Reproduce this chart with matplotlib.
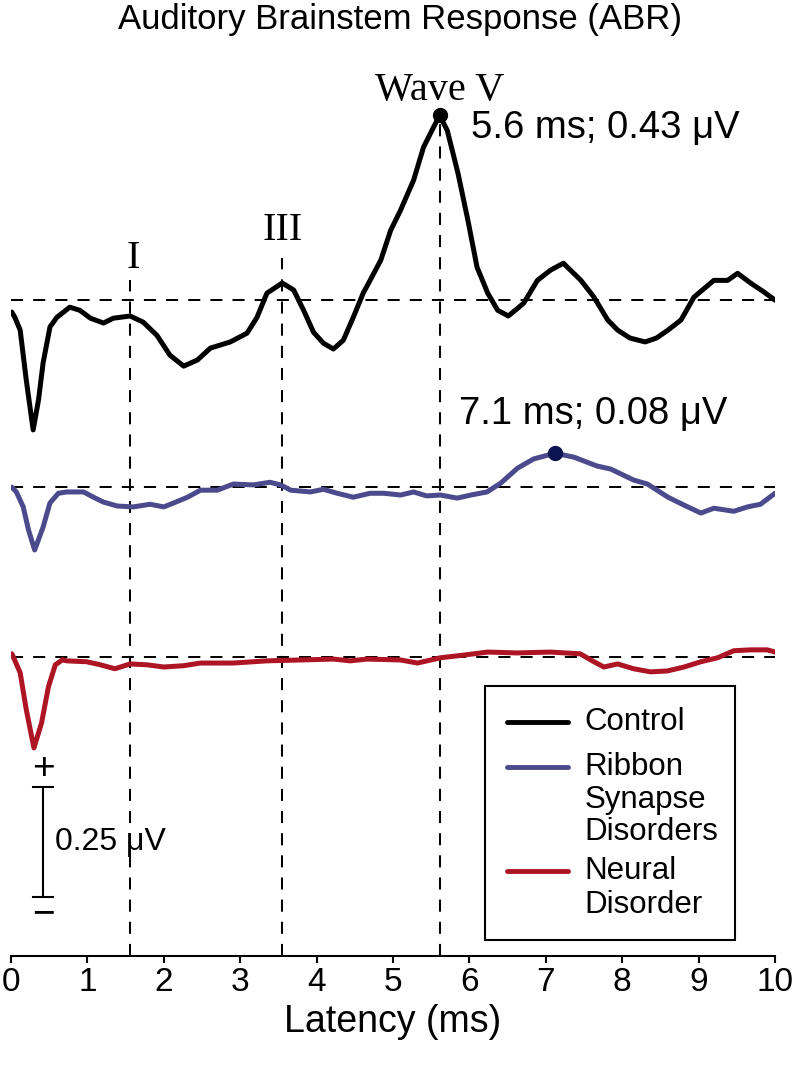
import matplotlib
matplotlib.use("Agg")
import matplotlib.pyplot as plt
import matplotlib.patches as mpatches
from matplotlib.lines import Line2D

plt.rcParams["font.family"] = ["Liberation Sans", "DejaVu Sans"]

# latency (ms) and amplitude (uV, relative to each trace's baseline)
control_t = [0.01, 0.05, 0.12, 0.2, 0.29, 0.36, 0.42, 0.51, 0.6, 0.77, 0.9, 1.04, 1.21,
             1.34, 1.56, 1.73, 1.91, 2.08, 2.26, 2.44, 2.61, 2.87, 3.09, 3.22, 3.35,
             3.55, 3.7, 3.83, 3.96, 4.09, 4.22, 4.35, 4.48, 4.61, 4.7, 4.84, 4.97, 5.1,
             5.27, 5.4, 5.53, 5.61, 5.71, 5.85, 5.98, 6.1, 6.24, 6.37, 6.51, 6.71, 6.89,
             7.06, 7.23, 7.46, 7.63, 7.81, 7.94, 8.1, 8.3, 8.45, 8.6, 8.77, 8.94, 9.2,
             9.38, 9.51, 9.68, 9.86, 10.0]
control_v = [-0.027, -0.039, -0.068, -0.182, -0.295, -0.227, -0.143, -0.061, -0.039,
             -0.016, -0.023, -0.041, -0.052, -0.041, -0.036, -0.05, -0.08, -0.125,
             -0.15, -0.136, -0.109, -0.095, -0.075, -0.039, 0.016, 0.039, 0.023,
             -0.023, -0.073, -0.098, -0.111, -0.091, -0.039, 0.016, 0.045, 0.091,
             0.159, 0.205, 0.273, 0.348, 0.393, 0.420, 0.386, 0.289, 0.182, 0.075,
             0.016, -0.023, -0.036, -0.007, 0.045, 0.068, 0.084, 0.045, 0.007, -0.045,
             -0.068, -0.086, -0.095, -0.086, -0.068, -0.045, 0.007, 0.045, 0.045,
             0.061, 0.039, 0.018, 0.0]

ribbon_t = [0.01, 0.07, 0.16, 0.23, 0.31, 0.42, 0.51, 0.62, 0.73, 0.95, 1.08, 1.21,
            1.39, 1.6, 1.82, 2.0, 2.13, 2.31, 2.48, 2.7, 2.91, 3.17, 3.39, 3.53, 3.66,
            3.92, 4.09, 4.27, 4.48, 4.7, 4.88, 5.1, 5.27, 5.44, 5.62, 5.84, 6.02, 6.23,
            6.41, 6.63, 6.84, 7.12, 7.37, 7.67, 7.85, 8.15, 8.33, 8.6, 8.81, 9.03, 9.2,
            9.46, 9.64, 9.81, 10.0]
ribbon_v = [0.0, -0.011, -0.045, -0.098, -0.143, -0.091, -0.036, -0.014, -0.011,
            -0.011, -0.023, -0.034, -0.043, -0.045, -0.039, -0.045, -0.036, -0.023,
            -0.007, -0.007, 0.007, 0.005, 0.011, 0.005, -0.007, -0.011, -0.005, -0.014,
            -0.023, -0.014, -0.014, -0.018, -0.011, -0.020, -0.018, -0.025, -0.018,
            -0.011, 0.009, 0.043, 0.064, 0.077, 0.068, 0.048, 0.041, 0.016, 0.007,
            -0.023, -0.041, -0.059, -0.048, -0.055, -0.045, -0.039, -0.014]

neural_t = [0.01, 0.03, 0.12, 0.2, 0.3, 0.4, 0.49, 0.58, 0.67, 0.73, 0.99, 1.17, 1.36,
            1.56, 1.78, 2.0, 2.26, 2.48, 2.91, 3.35, 3.79, 4.22, 4.44, 4.66, 5.1, 5.32,
            5.62, 5.97, 6.24, 6.62, 7.06, 7.45, 7.63, 7.76, 7.94, 8.15, 8.37, 8.59,
            8.81, 9.03, 9.25, 9.46, 9.68, 9.9, 10.0]
neural_v = [0.007, 0.0, -0.036, -0.120, -0.207, -0.150, -0.068, -0.018, -0.007, -0.009,
            -0.011, -0.018, -0.027, -0.016, -0.018, -0.023, -0.020, -0.014, -0.014,
            -0.009, -0.007, -0.005, -0.009, -0.005, -0.007, -0.014, -0.002, 0.005,
            0.011, 0.009, 0.011, 0.007, -0.011, -0.023, -0.016, -0.027, -0.034, -0.032,
            -0.023, -0.011, -0.002, 0.014, 0.016, 0.016, 0.011]

# vertical stacking offsets of the three traces (uV)
offsets = [0.811, 0.386, 0.0]
names = ["Control", "Ribbon\nSynapse\nDisorders", "Neural\nDisorder"]
colors = ["black", "#4b4a8c", "#ad1424"]

# wave markers
wave_labels = ["I", "III", "Wave V"]
wave_lat = [1.56, 3.55, 5.61]
wave_line_top = [0.857, 0.907, 1.232]
wave_label_y = [0.905, 0.97, 1.288]

# peak markers (latency, amplitude) and their labels
peak_lat = [5.61, 7.12]
peak_amp = [0.42, 0.077]
peak_text = ["5.6 ms; 0.43 \u03bcV", "7.1 ms; 0.08 \u03bcV"]

fig = plt.figure(figsize=(8, 10.67), dpi=100)
ax = fig.add_axes([11 / 800, 111 / 1067, 764 / 800, 896 / 1067])
ax.set_xlim(0, 10)
ax.set_ylim(-0.68, 1.357)

dash = (0, (6, 5))
for off in offsets:
    ax.axhline(off, color="black", lw=1.45, linestyle=dash, zorder=1)

for x, top in zip(wave_lat, wave_line_top):
    ax.plot([x, x], [-0.68, top], color="black", lw=1.45, linestyle=dash, zorder=1,
            clip_on=False)

series = [(control_t, control_v), (ribbon_t, ribbon_v), (neural_t, neural_v)]
for (t, v), off, c in zip(series, offsets, colors):
    ax.plot(t, [val + off for val in v], color=c, lw=3.6, solid_joinstyle="round",
            solid_capstyle="round", zorder=3)

dot_colors = ["black", "#0b1450"]
text_pos = [(6.02, 1.202), (5.86, 0.552)]
for x, a, off, dc, txt, (tx, ty) in zip(peak_lat, peak_amp, offsets, dot_colors,
                                        peak_text, text_pos):
    ax.plot(x, a + off, "o", color=dc, ms=10, zorder=4)
    ax.text(tx, ty, txt, fontsize=27.5, va="center", ha="left")

for lab, x, y in zip(wave_labels, wave_lat, wave_label_y):
    ax.text(x + (0.04 if lab == "I" else 0), y, lab, fontsize=29, ha="center", va="center",
            family=["Liberation Serif", "DejaVu Serif"])

# scale bar 0.25 uV
sb_x, sb_top, sb_len = 0.42, -0.295, 0.25
ax.plot([sb_x, sb_x], [sb_top, sb_top - sb_len], color="black", lw=1.5)
for yy in (sb_top, sb_top - sb_len):
    ax.plot([sb_x - 0.13, sb_x + 0.13], [yy, yy], color="black", lw=1.5)
ax.text(sb_x, -0.255, "+", fontsize=28, ha="center", va="center")
ax.text(sb_x, -0.585, "\u2212", fontsize=28, ha="center", va="center")
ax.text(0.577, -0.42, "0.25 \u03bcV", fontsize=23, ha="left", va="center")

# legend drawn by hand so handles sit on the first label line
ax.add_patch(mpatches.Rectangle((0.620, 0.018), 0.328, 0.283, transform=ax.transAxes,
                                fill=False, edgecolor="black", lw=1.5, zorder=5))
line_y = [[0.261], [0.211, 0.174, 0.138], [0.095, 0.057]]
for name, c, ys in zip(names, colors, line_y):
    ax.add_line(Line2D([0.649, 0.729], [ys[0], ys[0]], transform=ax.transAxes,
                       color=c, lw=3.5, solid_capstyle="round", zorder=5))
    for part, yy in zip(name.split("\n"), ys):
        ax.text(0.751, yy, part, transform=ax.transAxes, fontsize=22.5, va="center",
                ha="left", zorder=5)

for s in ("left", "top", "right"):
    ax.spines[s].set_visible(False)
ax.spines["bottom"].set_linewidth(1.5)
ax.set_yticks([])
ax.set_xticks(range(0, 11))
ax.tick_params(axis="x", direction="out", length=5, width=1.5, labelsize=24, pad=3)
ax.set_xlabel("Latency (ms)", fontsize=27, labelpad=4)

fig.text(0.5, 1 - 20 / 1067, "Auditory Brainstem Response (ABR)", fontsize=25,
         ha="center", va="center")

fig.savefig("out.png", dpi=100)
